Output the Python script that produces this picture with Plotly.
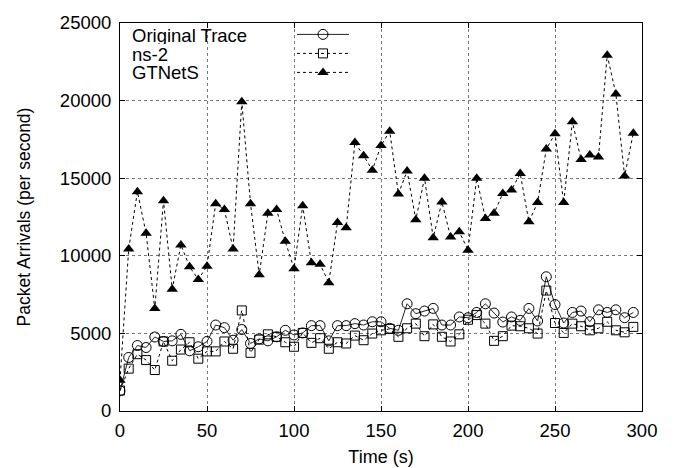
import plotly.graph_objects as go

time_s = list(range(0, 300, 5))

original_trace = [1300, 3450, 4220, 4090, 4770, 4480, 4520, 4940, 3880, 4140,
                  4480, 5540, 5370, 4560, 5250, 4350, 4650, 4520, 4780, 5200,
                  4900, 5030, 5500, 5500, 4520, 5500, 5500, 5630, 5540, 5750,
                  5750, 5330, 5200, 6910, 6270, 6440, 6610, 5540, 5540, 6060,
                  6010, 6350, 6910, 6310, 5730, 6060, 5840, 6610, 5800, 8650,
                  6860, 5670, 6350, 6440, 5750, 6520, 6350, 6520, 6010, 6350]

ns2 = [1320, 2730, 3660, 3280, 2640, 4480, 3240, 3960, 4430, 3370,
       3840, 3840, 4480, 4010, 6480, 3750, 4600, 4940, 4780, 4430,
       4140, 5030, 4390, 4690, 4010, 4430, 4350, 4860, 4560, 4990,
       5200, 5290, 4780, 5330, 5630, 4820, 5580, 4780, 4480, 4940,
       5880, 6180, 5630, 4520, 4820, 5500, 5460, 5330, 4990, 7760,
       5670, 5030, 5630, 5460, 5200, 5330, 5750, 5200, 5070, 5420]

gtnets = [1980, 10440, 14130, 11450, 6600, 13550, 7850, 10700, 9290, 8480,
          9330, 13360, 12980, 10440, 19930, 13360, 8780, 12740, 12980, 10930,
          9160, 13230, 9550, 9460, 8270, 12150, 11800, 17300, 16450, 15520,
          17100, 18030, 13980, 15470, 12320, 15000, 11170, 13470, 11210, 11550,
          10360, 15000, 12400, 12740, 14020, 14240, 15300, 12190, 13430, 16880,
          17860, 13430, 18630, 16200, 16500, 16370, 22930, 20420, 15140, 17900]

series_names = ["Original Trace", "ns-2", "GTNetS"]
x_ticks = [0, 50, 100, 150, 200, 250, 300]
y_ticks = [0, 5000, 10000, 15000, 20000, 25000]

FONT = "Liberation Sans, Arial, Helvetica, sans-serif"

fig = go.Figure()
fig.add_trace(go.Scatter(
    x=time_s, y=original_trace, mode="lines+markers", name="",
    line=dict(color="#222222", width=1),
    marker=dict(symbol="circle-open", size=10, color="black", line=dict(width=1, color="black")),
))
fig.add_trace(go.Scatter(
    x=time_s, y=ns2, mode="lines+markers", name="",
    line=dict(color="black", width=1, dash="dot"),
    marker=dict(symbol="square-open", size=9, color="black", line=dict(width=1, color="black")),
))
fig.add_trace(go.Scatter(
    x=time_s, y=gtnets, mode="lines+markers", name="",
    line=dict(color="black", width=1, dash="dot"),
    marker=dict(symbol="triangle-up", size=10, color="black"),
))

# legend labels (gnuplot style: text at left, sample at right)
label_y = [0.967, 0.919, 0.872]
for name, yy in zip(series_names, label_y):
    fig.add_annotation(x=0.019, y=yy, xref="paper", yref="paper", text=name,
                       showarrow=False, xanchor="left", yanchor="middle",
                       height=17, valign="middle",
                       font=dict(family=FONT, size=18.5, color="black"))

axis_common = dict(
    showline=True, linecolor="black", linewidth=1, mirror="ticks",
    ticks="inside", ticklen=5, tickcolor="black",
    showgrid=True, gridcolor="#777777", griddash="dot", gridwidth=1,
    zeroline=False, automargin=False,
    tickfont=dict(family=FONT, size=18.5, color="black"),
)

fig.update_layout(
    width=667, height=460,
    margin=dict(l=112, r=33, t=12, b=57),
    paper_bgcolor="white", plot_bgcolor="white",
    font=dict(family=FONT, size=18, color="black"),
    showlegend=True,
    legend=dict(x=0.3295, y=1.008, xanchor="left", yanchor="top",
                bgcolor="rgba(0,0,0,0)", itemwidth=52,
                font=dict(family=FONT, size=12), tracegroupgap=0),
    xaxis=dict(range=[0, 300], tickvals=x_ticks, ticklabelstandoff=3,
               title=dict(text="Time (s)", font=dict(family=FONT, size=18), standoff=10),
               **axis_common),
    yaxis=dict(range=[0, 25000], tickvals=y_ticks, tickformat="d", ticklabelstandoff=4,
               title=dict(text="Packet Arrivals (per second)", font=dict(family=FONT, size=17.5), standoff=24),
               **axis_common),
)

fig.write_html("out.html")
